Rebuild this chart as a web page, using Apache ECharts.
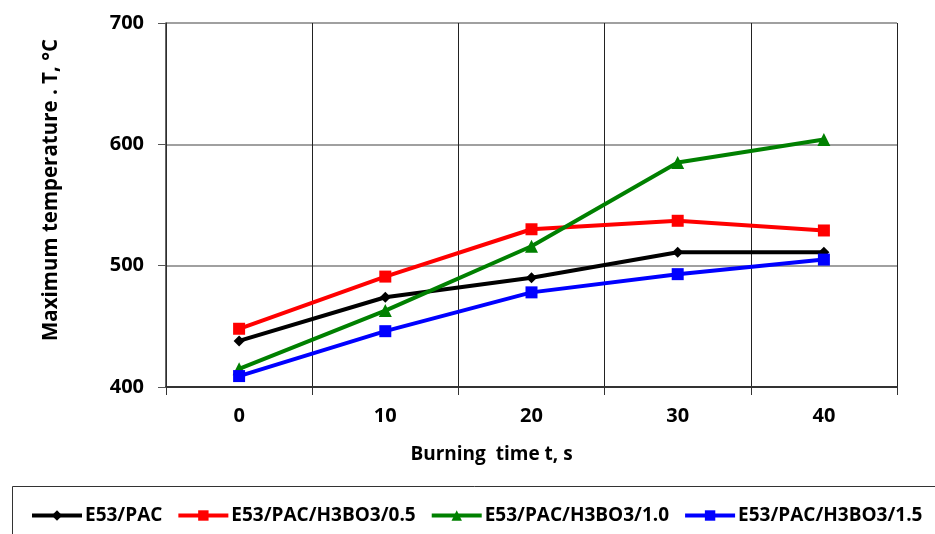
<!DOCTYPE html>
<html><head><meta charset="utf-8">
<script src="https://cdn.jsdelivr.net/npm/echarts@6/dist/echarts.min.js"></script>
<style>html,body{margin:0;padding:0;background:#fff}#c{width:935px;height:534px}</style>
</head><body><div id="c"></div>
<script>
const categories = ['0', '10', '20', '30', '40'];
const seriesNames = ['E53/PAC', 'E53/PAC/H3BO3/0.5', 'E53/PAC/H3BO3/1.0', 'E53/PAC/H3BO3/1.5'];
const e53pac = [438, 474, 490, 511, 511];
const h3bo3_05 = [448, 491, 530, 537, 529];
const h3bo3_10 = [415, 463, 516, 585, 604];
const h3bo3_15 = [409, 446, 478, 493, 505];
const yTicks = [400, 500, 600, 700];

const FONT = '"Open Sans"';
const colors = ['#000000', '#ff0000', '#008000', '#0000ff'];
const symbols = ['diamond', 'rect', 'triangle', 'rect'];
const symSizes = [11, 12, 13, 12];
const data = [e53pac, h3bo3_05, h3bo3_10, h3bo3_15];

const chart = echarts.init(document.getElementById('c'), null, {renderer: 'canvas'});
chart.setOption({
  animation: false,
  backgroundColor: '#fff',
  grid: {left: 166, right: 38, top: 23, bottom: 147, containLabel: false},
  xAxis: {
    type: 'category', data: categories, boundaryGap: true,
    name: 'Burning  time t, s', nameLocation: 'middle', nameGap: 58,
    nameTextStyle: {fontFamily: FONT, fontWeight: 'bold', fontSize: 19, color: '#000', padding: [0, 80, 0, 0]},
    axisLine: {lineStyle: {color: '#333', width: 2}},
    axisTick: {show: true, length: 8, lineStyle: {color: '#333'}},
    axisLabel: {fontFamily: FONT, fontWeight: 'bold', fontSize: 20, color: '#000', margin: 19},
    splitLine: {show: true, lineStyle: {color: '#222', width: 1}}
  },
  yAxis: {
    type: 'value', min: yTicks[0], max: yTicks[yTicks.length - 1], interval: 100,
    name: 'Maximum temperature . T, °C', nameLocation: 'middle', nameGap: 104,
    nameTextStyle: {fontFamily: FONT, fontWeight: 'bold', fontSize: 20.5, color: '#000', padding: [0, 0, 0, 30]},
    axisLine: {show: true, lineStyle: {color: '#333', width: 1.5}},
    axisTick: {show: true, length: 8, lineStyle: {color: '#555'}},
    axisLabel: {fontFamily: FONT, fontWeight: 'bold', fontSize: 20, color: '#000', margin: 22},
    splitLine: {show: true, lineStyle: {color: '#808080', width: 1.5}}
  },
  legend: {
    data: seriesNames, left: 30, top: 506, itemWidth: 50, itemHeight: 13, itemGap: 14,
    padding: 0,
    lineStyle: {width: 4},
    textStyle: {fontFamily: FONT, fontWeight: 'bold', fontSize: 19, color: '#000', padding: [0, 0, 0, -2]}
  },
  graphic: [{type: 'rect', shape: {x: 12.5, y: 486.5, width: 940, height: 60}, style: {fill: 'none', stroke: '#333', lineWidth: 1}, silent: true}],
  series: seriesNames.map((n, i) => ({
    name: n, type: 'line', data: data[i], symbol: symbols[i], symbolSize: symSizes[i],
    itemStyle: {color: colors[i]}, lineStyle: {color: colors[i], width: 4}, z: 3 + i
  }))
});
</script></body></html>
